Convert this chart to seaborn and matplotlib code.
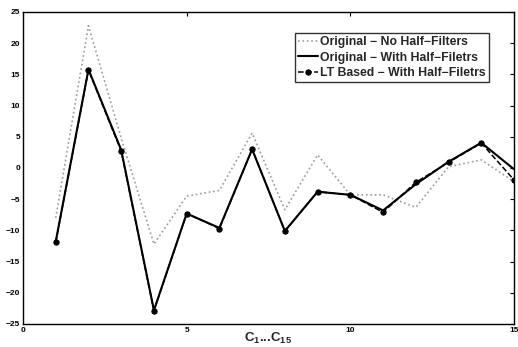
import matplotlib
matplotlib.use("Agg")
import matplotlib.pyplot as plt
import seaborn as sns
import pandas as pd

idx = list(range(1, 16))
no_half = [-8.0, 22.8, 4.8, -12.2, -4.5, -3.6, 5.6, -6.7, 2.1, -4.3, -4.3, -6.3, 0.2, 1.3, -2.2]
orig_half = [-11.8, 15.8, 2.9, -22.8, -7.3, -9.6, 3.0, -10.1, -3.8, -4.3, -6.8, -2.6, 1.0, 4.05, -0.2]
lt_half = [-11.9, 15.7, 2.7, -22.9, -7.3, -9.7, 3.0, -10.1, -3.8, -4.3, -7.1, -2.3, 0.9, 4.0, -1.9]
labels = ["Original \u2212 No Half\u2212Filters",
          "Original \u2212 With Half\u2212Filetrs",
          "LT Based \u2212 With Half\u2212Filetrs"]

sns.set_style("white")
plt.rcParams['font.family'] = ['Liberation Sans', 'DejaVu Sans']
plt.rcParams['font.weight'] = 'bold'
plt.rcParams['mathtext.fontset'] = 'custom'
plt.rcParams['mathtext.bf'] = 'Liberation Sans:bold'
plt.rcParams['mathtext.rm'] = 'Liberation Sans:bold'
plt.rcParams['mathtext.default'] = 'bf'

df = pd.DataFrame({"x": idx * 3,
                   "y": no_half + orig_half + lt_half,
                   "s": [labels[0]] * 15 + [labels[1]] * 15 + [labels[2]] * 15})

fig = plt.figure(figsize=(5.18, 3.47), dpi=100)
ax = fig.add_axes([23/518, 1-324/347, (514-23)/518, (324-12)/347])

sns.lineplot(data=df[df.s == labels[0]], x="x", y="y", ax=ax, color="#9a9a9a",
             linestyle=":", linewidth=1.2, label=labels[0])
sns.lineplot(data=df[df.s == labels[1]], x="x", y="y", ax=ax, color="black",
             linestyle="-", linewidth=1.5, label=labels[1])
sns.lineplot(data=df[df.s == labels[2]], x="x", y="y", ax=ax, color="black",
             linestyle="--", linewidth=1.1, marker="o", markersize=3.8,
             markeredgecolor="black", label=labels[2])

ax.set_xlim(0, 15)
ax.set_ylim(-25, 25)
ax.set_xticks([0, 5, 10, 15])
ax.set_yticks(range(-25, 26, 5))
ax.tick_params(direction="in", length=3, width=0.8, top=True, right=True,
               labelsize=6, pad=2, colors="black")
for lab in ax.get_xticklabels() + ax.get_yticklabels():
    lab.set_fontweight("bold")
ax.set_ylabel("")
ax.set_xlabel("C$_{1}$...C$_{15}$", fontsize=9.5, fontweight="bold", labelpad=-2)
for sp in ax.spines.values():
    sp.set_color("black")
    sp.set_linewidth(1.0)

leg = ax.legend(loc="upper right", bbox_to_anchor=((489-23)/491, 1 - (33-12)/312),
                bbox_transform=ax.transAxes, fontsize=8.8, frameon=True, fancybox=False,
                edgecolor="black", borderpad=0.25, labelspacing=0.3, handlelength=1.6,
                handletextpad=0.2, borderaxespad=0)
leg.get_frame().set_linewidth(1.0)
for t in leg.get_texts():
    t.set_fontweight("bold")

fig.savefig("out.png", dpi=100)
